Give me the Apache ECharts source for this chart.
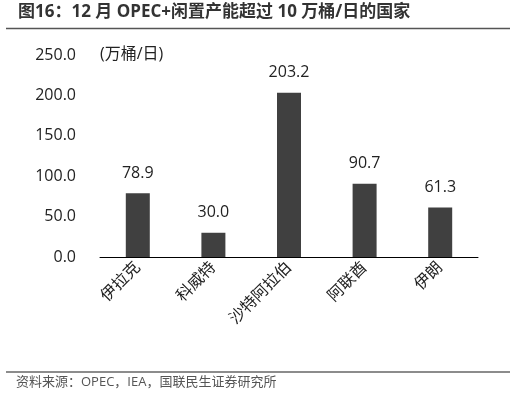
<!DOCTYPE html><html><head><meta charset="utf-8"><script src="https://cdn.jsdelivr.net/npm/echarts@6/dist/echarts.min.js"></script>
<style>body{margin:0}#c{width:516px;height:401px}</style></head><body><div id="c"></div><script>
const categories=['伊拉克','科威特','沙特阿拉伯','阿联酋','伊朗'];
const values=[78.9,30.0,203.2,90.7,61.3];
const yTicks=[0,50,100,150,200,250];
const F='"Open Sans","Noto Sans CJK SC",sans-serif';
const c=echarts.init(document.getElementById('c'));
c.setOption({
 graphic:[
  {type:'text',left:18,top:4,style:{text:'图16：12 月 OPEC+闲置产能超过 10 万桶/日的国家',font:'bold 17px '+F,fill:'#333'}},
  {type:'line',shape:{x1:6,y1:28.5,x2:510,y2:28.5},style:{stroke:'#555',lineWidth:1.5}},
  {type:'line',shape:{x1:6,y1:372,x2:510,y2:372},style:{stroke:'#666',lineWidth:1.5}},
  {type:'text',left:16,top:376,style:{text:'资料来源：OPEC，IEA，国联民生证券研究所',font:'13px '+F,fill:'#555'}},
  {type:'text',left:100,top:46,style:{text:'(万桶/日)',font:'16px '+F,fill:'#222'}}
 ],
 grid:{left:100,right:38,top:55,bottom:144},
 xAxis:{type:'category',data:categories,axisLine:{lineStyle:{color:'#000'}},axisTick:{show:false},
  axisLabel:{rotate:45,color:'#222',fontSize:16,fontFamily:F,interval:0}},
 yAxis:{type:'value',min:0,max:250,interval:50,splitLine:{show:false},axisLine:{show:false},axisTick:{show:false},
  axisLabel:{color:'#222',fontSize:16,fontFamily:F,formatter:v=>v.toFixed(1),margin:24}},
 series:[{type:'bar',data:values,barWidth:24,itemStyle:{color:'#404040'},
  label:{show:true,position:'top',distance:12,color:'#222',fontSize:16,fontFamily:F,formatter:p=>p.value.toFixed(1)}}]
});
</script></body></html>
